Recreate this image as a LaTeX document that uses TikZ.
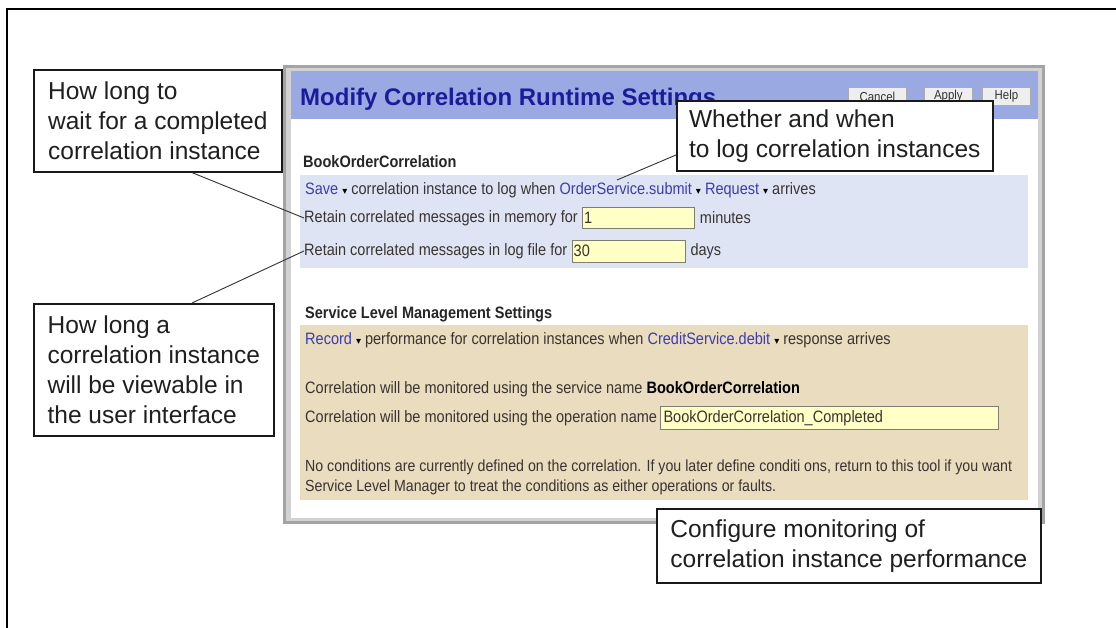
\documentclass[tikz,border=0pt]{standalone}
\usepackage{fontspec}
\setmainfont{Liberation Sans}
\newfontfamily\uiface[FakeStretch=0.88]{Liberation Sans}
\newfontfamily\symface{DejaVu Sans}

\definecolor{wingray}{HTML}{A4A4A4}
\definecolor{winlight}{HTML}{D2D2D2}
\definecolor{titlebar}{HTML}{9AA9E2}
\definecolor{titleink}{HTML}{1A1C9C}
\definecolor{panelblue}{HTML}{DFE4F4}
\definecolor{paneltan}{HTML}{E9DCBF}
\definecolor{uiink}{HTML}{3A3431}
\definecolor{linkink}{HTML}{3B3DB0}
\definecolor{fieldfill}{HTML}{FFFFC6}
\definecolor{fieldline}{HTML}{7E7E70}
\definecolor{btnfill}{HTML}{EEEEEE}

\newcommand\calloutfont{\fontsize{24.5}{30}\selectfont}
\newcommand\uitextfont{\uiface\fontsize{16.5}{19}\selectfont}
\newcommand\notefont{\uiface\fontsize{16.1}{19}\selectfont}
\newcommand\titlefont{\bfseries\fontsize{24}{28}\selectfont}
\newcommand\btnfont{\uiface\fontsize{13}{14}\selectfont}
\newcommand\lnk[1]{\textcolor{linkink}{#1}}
\newcommand\dropdown{\ {\symface\fontsize{10}{10}\selectfont\textcolor{black}{▾}}\ }

\tikzset{
  callout/.style={draw=black!90, line width=1.6pt, fill=white, align=left,
    inner sep=0pt, anchor=north west, font=\calloutfont, text=black!88},
  lead/.style={draw=black!80, line width=0.9pt},
  uitext/.style={anchor=west, inner sep=0pt, font=\uitextfont, text=uiink},
  uibold/.style={uitext, font=\uitextfont\bfseries, text=black!85},
  field/.style={draw=fieldline, fill=fieldfill, line width=0.8pt, inner sep=0pt, anchor=west},
  button/.style={draw=gray!65, fill=btnfill, line width=0.8pt, inner sep=0pt,
    anchor=north west, minimum height=18pt, font=\btnfont, text=black!80}
}

\begin{document}
\begin{tikzpicture}[x=1pt, y=-1pt]
\useasboundingbox (0,0) rectangle (1116,628);
\fill[white] (0,0) rectangle (1116,628);

% page frame (top and left edges)
\draw[line width=2.6pt, line cap=rect] (1116,9) -- (7,9) -- (7,628);

% settings window
\fill[wingray] (283,65) rectangle (1045,524);
\fill[winlight] (286,68) rectangle (1042,521);
\fill[white] (291,71) rectangle (1038,518);
\fill[titlebar] (291,71) rectangle (1038,119);
\node[anchor=base west, inner sep=0pt, font=\titlefont, text=titleink] (title) at (300,106)
  {Modify Correlation Runtime Settings};

\node[button, minimum width=58pt] (cancel) at (848,87) {Cancel};
\node[button, minimum width=48pt] (apply) at (924,87) {Apply};
\node[button, minimum width=48pt] (help) at (982,87) {Help};

% correlation section
\node[uibold] (corrhead) at (303,162) {BookOrderCorrelation};
\fill[panelblue] (300,175) rectangle (1028,268);
\node[uitext] (saverow) at (305,190)
  {\lnk{Save}\dropdown correlation instance to log when \lnk{OrderService.submit}\dropdown\lnk{Request}\dropdown arrives};
\coordinate (submitpt) at (617,180);

\node[uitext] (memrow) at (304,218) {Retain correlated messages in memory for};
\node[field, minimum width=112pt, minimum height=21pt] (memfield) at ([xshift=4pt]memrow.east) {};
\node[uitext] at ([xshift=2pt]memfield.west) {1};
\node[uitext] (memunit) at ([xshift=5pt]memfield.east) {minutes};

\node[uitext] (logrow) at (304,251) {Retain correlated messages in log file for};
\node[field, minimum width=113pt, minimum height=22pt] (logfield) at ([xshift=4pt]logrow.east) {};
\node[uitext] at ([xshift=2pt]logfield.west) {30};
\node[uitext] (logunit) at ([xshift=5pt]logfield.east) {days};

% service level management section
\node[uibold] (slmhead) at (305,314) {Service Level Management Settings};
\fill[paneltan] (300,325) rectangle (1028,500);
\node[uitext] (recrow) at (305,340)
  {\lnk{Record}\dropdown performance for correlation instances when \lnk{CreditService.debit}\dropdown response arrives};
\node[uitext] (svcrow) at (305,389)
  {Correlation will be monitored using the service name \textcolor{black}{\bfseries BookOrderCorrelation}};
\node[uitext] (oprow) at (305,418) {Correlation will be monitored using the operation name};
\node[field, minimum width=338pt, minimum height=23pt] (opfield) at ([xshift=3pt]oprow.east) {};
\node[uitext] at ([xshift=3pt]opfield.west) {BookOrderCorrelation\_Completed};
\node[uitext, font=\notefont] (note1) at (305,467)
  {No conditions are currently defined on the correlation. If you later define conditi ons, return to this tool if you want};
\node[uitext, font=\notefont] (note2) at (305,487)
  {Service Level Manager to treat the conditions as either operations or faults.};

% callouts
\node[callout, minimum width=248pt, minimum height=102pt] (waitnote) at (33,69)
  {How long to\\wait for a completed\\correlation instance};
\node[callout, minimum width=240pt, minimum height=132pt] (viewnote) at (33,303)
  {How long a\\correlation instance\\will be viewable in\\the user interface};
\node[callout, minimum width=316pt, minimum height=70pt] (lognote) at (676,100)
  {Whether and when\\to log correlation instances};
\node[callout, minimum width=384pt, minimum height=74pt] (slmnote) at (656,508)
  {Configure monitoring of\\correlation instance performance};

% leader lines
\draw[lead] ([xshift=159pt]waitnote.south west) -- (memrow.west);
\draw[lead] ([xshift=159pt]viewnote.north west) -- (logrow.west);
\draw[lead] ([yshift=-55pt]lognote.north west) -- (submitpt);
\end{tikzpicture}
\end{document}
